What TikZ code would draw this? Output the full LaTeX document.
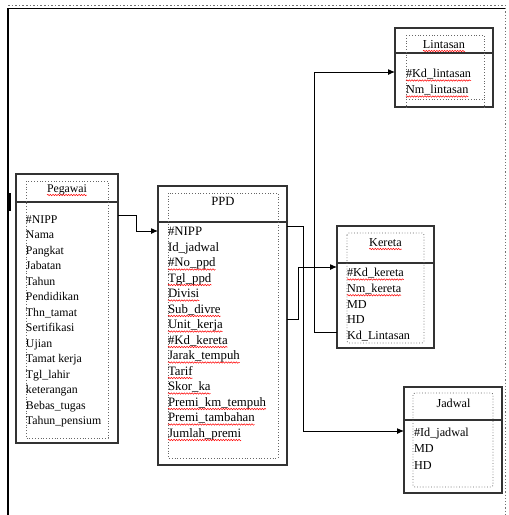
\documentclass[tikz,border=0pt]{standalone}
\usepackage{fontspec}
\setmainfont{Liberation Serif}
\usetikzlibrary{arrows.meta,decorations.pathmorphing}
\begin{document}
\begin{tikzpicture}[x=1pt,y=-1pt,
  box/.style={draw=black!80,line width=1.2pt,inner sep=0pt,outer sep=0pt},
  inner/.style={draw=black!60,dotted,line width=0.8pt},
  sep/.style={draw=black!80,line width=1.2pt},
  conn/.style={draw=black,line width=1pt,-{Latex[length=7pt,width=6pt]}},
  line/.style={draw=black,line width=1pt},
  attr/.style={inner sep=0pt,outer sep=0pt,anchor=base west,font=\fontsize{12.2}{14}\selectfont},
  ttl/.style={inner sep=0pt,outer sep=0pt,anchor=base,font=\fontsize{12.2}{14}\selectfont},
  squig/.style={draw=red,line width=0.5pt,decorate,decoration={snake,amplitude=0.7pt,segment length=2.6pt}}]
\useasboundingbox (0,0) rectangle (509,515);
% page frame
\draw[black,line width=1.2pt] (8,8) -- (8,515);
\draw[black,line width=2.8pt] (9.4,193) -- (9.4,211);
\draw[black,line width=1pt] (8,8.5) -- (505,8.5);
\draw[black!55,dotted,line width=1.6pt] (8,5.5) -- (506,5.5);
\draw[black!55,dotted,line width=1.2pt] (505.5,5) -- (505.5,515);

% boxes
\node[box,minimum width=102pt,minimum height=269pt] (pegawai) at (67,308.5) {};
\node[box,minimum width=129pt,minimum height=279pt] (ppd) at (222.5,325.5) {};
\node[box,minimum width=98pt,minimum height=79pt] (lintasan) at (444,67.5) {};
\node[box,minimum width=97pt,minimum height=122pt] (kereta) at (385.5,287) {};
\node[box,minimum width=98pt,minimum height=106pt] (jadwal) at (453,440) {};

% separators
\draw[sep] (pegawai.west |- 0,202) -- (pegawai.east |- 0,202);
\draw[sep] (ppd.west |- 0,222) -- (ppd.east |- 0,222);
\draw[sep] (lintasan.west |- 0,53) -- (lintasan.east |- 0,53);
\draw[sep] (kereta.west |- 0,263) -- (kereta.east |- 0,263);
\draw[sep] (jadwal.west |- 0,420) -- (jadwal.east |- 0,420);

% inner dotted frames
\draw[inner] (26,181) rectangle (108,438);
\draw[inner] (168,193) rectangle (278,458);
\draw[inner] (406,35) rectangle (484,99);
\draw[inner] (406,99) -- (406,110);
\draw[inner] (484,99) -- (484,110);
\draw[inner,rounded corners=2pt] (347,233) rectangle (424,343);
\draw[inner,rounded corners=2pt] (413,393) rectangle (493,487);

% titles
\node[ttl,font=\fontsize{11.8}{14}\selectfont] (tpeg) at (67,192) {Pegawai};
\node[ttl,font=\fontsize{12.6}{14}\selectfont] (tppd) at (223,205) {PPD};
\node[ttl] (tlin) at (444,48) {Lintasan};
\node[ttl] (tker) at (385.5,246) {Kereta};
\node[ttl] (tjad) at (453.5,407) {Jadwal};

% Pegawai attributes
\foreach \t [count=\i] in {\#NIPP,Nama,Pangkat,Jabatan,Tahun,Pendidikan,Thn\_tamat,Sertifikasi,Ujian,Tamat kerja,Tgl\_lahir,keterangan,Bebas\_tugas,Tahun\_pensium}
  \node[attr,font=\fontsize{11.8}{14}\selectfont] (pg\i) at (26,{223+15.5*(\i-1)}) {\t};

% PPD attributes
\foreach \t [count=\i] in {\#NIPP,Id\_jadwal,\#No\_ppd,Tgl\_ppd,Divisi,Sub\_divre,Unit\_kerja,\#Kd\_kereta,Jarak\_tempuh,Tarif,Skor\_ka,Premi\_km\_tempuh,Premi\_tambahan,Jumlah\_premi}
  \node[attr,font=\fontsize{12.8}{14}\selectfont] (pp\i) at (168,{235.5+15.5*(\i-1)}) {\t};

% Lintasan attributes
\node[attr] (li1) at (406,77.5) {\#Kd\_lintasan};
\node[attr] (li2) at (406,93.5) {Nm\_lintasan};

% Kereta attributes
\foreach \t [count=\i] in {\#Kd\_kereta,Nm\_kereta,MD,HD,Kd\_Lintasan}
  \node[attr] (ke\i) at (347,{276.5+15.75*(\i-1)}) {\t};

% Jadwal attributes
\node[attr] (ja1) at (414,436) {\#Id\_jadwal};
\node[attr] (ja2) at (414,452.5) {MD};
\node[attr] (ja3) at (414,469) {HD};

% spell-check squiggles
\draw[squig] ([yshift=-3pt]tpeg.base west) -- ([yshift=-3pt]tpeg.base east);
\draw[squig] ([yshift=-3pt]tlin.base west) -- ([yshift=-3pt]tlin.base east);
\draw[squig] ([yshift=-3pt]tker.base west) -- ([yshift=-3pt]tker.base east);
\foreach \n in {pp3,pp4,pp5,pp6,pp7,pp8,pp9,pp10,pp11,pp12,pp13,pp14,li1,li2,ke1,ke2}
  \draw[squig] ([yshift=-3pt]\n.base west) -- ([yshift=-3pt]\n.base east);

% connectors
\draw[conn] (pegawai.east |- 0,215) -- (136,215) -- (136,231) -- (ppd.west |- 0,231);
\draw[conn] (ppd.east |- 0,226) -- (303,226) -- (303,431) -- (jadwal.west |- 0,431);
\draw[conn] (ppd.east |- 0,319) -- (298,319) -- (298,267) -- (kereta.west |- 0,267);
\draw[conn] (kereta.west |- 0,332) -- (314,332) -- (314,72) -- (lintasan.west |- 0,72);
\end{tikzpicture}
\end{document}
